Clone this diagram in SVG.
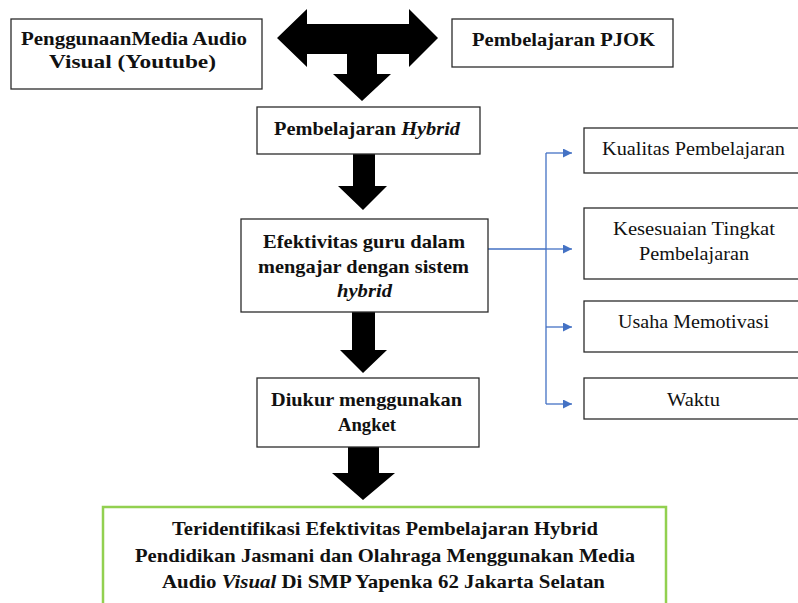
<svg xmlns="http://www.w3.org/2000/svg" width="798" height="603" viewBox="0 0 798 603">
<style>
.box{fill:#fff;stroke:#2b2b2b;stroke-width:1.3}
.green{fill:#fff;stroke:#92D050;stroke-width:2.5}
text{font-family:'Liberation Serif','Times New Roman',Tinos,'DejaVu Serif',serif;font-size:18.5px;fill:#111}
.b{font-weight:bold;font-size:19.5px}
.arrow{fill:#000}
.blue{fill:none;stroke:#4472C4;stroke-width:1.3}
</style>
<defs>
<marker id="ah" viewBox="0 0 10 10" refX="10" refY="5" markerWidth="9" markerHeight="9" markerUnits="userSpaceOnUse" orient="auto">
<path d="M0,0 L10,5 L0,10 Z" fill="#4472C4"/>
</marker>
</defs>
<g id="connectors">
<path class="arrow" d="M277,38 L307,9 L307,24 L409,24 L409,9 L438,38 L409,67 L409,54 L377,54 L377,74 L391,74 L362,101 L333,74 L347,74 L347,54 L307,54 L307,67 Z"/>
<path class="arrow" d="M353,154 L375,154 L375,186 L387,186 L363,210 L338,186 L353,186 Z"/>
<path class="arrow" d="M352,312 L375,312 L375,350 L387,350 L363,373 L340,350 L352,350 Z"/>
<path class="arrow" d="M348,447 L379,447 L379,473 L395,473 L363,500 L332,473 L348,473 Z"/>
<path class="blue" d="M488,249 L546,249 M546,153 L546,404"/>
<path class="blue" marker-end="url(#ah)" d="M546,153 L572,153"/>
<path class="blue" marker-end="url(#ah)" d="M546,249 L572,249"/>
<path class="blue" marker-end="url(#ah)" d="M546,327 L572,327"/>
<path class="blue" marker-end="url(#ah)" d="M546,404 L572,404"/>
</g>
<g id="media">
<rect class="box" x="11" y="19" width="251" height="70"/>
<text class="b" x="21" y="45" textLength="226" lengthAdjust="spacingAndGlyphs">PenggunaanMedia  Audio</text>
<text class="b" x="49" y="68" textLength="167" lengthAdjust="spacingAndGlyphs">Visual (Youtube)</text>
</g>
<g id="pjok">
<rect class="box" x="452" y="19" width="221" height="48"/>
<text class="b" x="472" y="46" textLength="183" lengthAdjust="spacingAndGlyphs">Pembelajaran  PJOK</text>
</g>
<g id="hybrid">
<rect class="box" x="257" y="107" width="223" height="47"/>
<text class="b" x="274" y="135" textLength="186" lengthAdjust="spacingAndGlyphs">Pembelajaran <tspan font-style="italic">Hybrid</tspan></text>
</g>
<g id="efektivitas">
<rect class="box" x="241" y="219" width="247" height="93"/>
<text class="b" x="263" y="248" textLength="202" lengthAdjust="spacingAndGlyphs">Efektivitas guru dalam</text>
<text class="b" x="258" y="273" textLength="211" lengthAdjust="spacingAndGlyphs">mengajar dengan sistem</text>
<text class="b" x="337" y="297" textLength="55" lengthAdjust="spacingAndGlyphs" font-style="italic">hybrid</text>
</g>
<g id="diukur">
<rect class="box" x="257" y="378" width="222" height="69"/>
<text class="b" x="271" y="406" textLength="191" lengthAdjust="spacingAndGlyphs">Diukur menggunakan</text>
<text class="b" x="338" y="431" textLength="58" lengthAdjust="spacingAndGlyphs">Angket</text>
</g>
<g id="kualitas">
<rect class="box" x="584" y="128" width="230" height="45"/>
<text x="602" y="155" textLength="183" lengthAdjust="spacingAndGlyphs">Kualitas Pembelajaran</text>
</g>
<g id="kesesuaian">
<rect class="box" x="584" y="208" width="230" height="71"/>
<text x="613" y="235" textLength="162" lengthAdjust="spacingAndGlyphs">Kesesuaian  Tingkat</text>
<text x="639" y="260" textLength="110" lengthAdjust="spacingAndGlyphs">Pembelajaran</text>
</g>
<g id="usaha">
<rect class="box" x="584" y="301" width="230" height="51"/>
<text x="618" y="328" textLength="151" lengthAdjust="spacingAndGlyphs">Usaha Memotivasi</text>
</g>
<g id="waktu">
<rect class="box" x="584" y="378" width="230" height="41"/>
<text x="667" y="406" textLength="53" lengthAdjust="spacingAndGlyphs">Waktu</text>
</g>
<g id="hasil">
<rect class="green" x="103" y="507" width="563" height="110"/>
<text class="b" x="172" y="535" textLength="426" lengthAdjust="spacingAndGlyphs">Teridentifikasi Efektivitas Pembelajaran  Hybrid</text>
<text class="b" x="135" y="562" textLength="500" lengthAdjust="spacingAndGlyphs">Pendidikan Jasmani dan Olahraga Menggunakan Media</text>
<text class="b" x="162" y="588" textLength="443" lengthAdjust="spacingAndGlyphs">Audio <tspan font-style="italic">Visual</tspan> Di SMP Yapenka 62 Jakarta Selatan</text>
</g>
</svg>
